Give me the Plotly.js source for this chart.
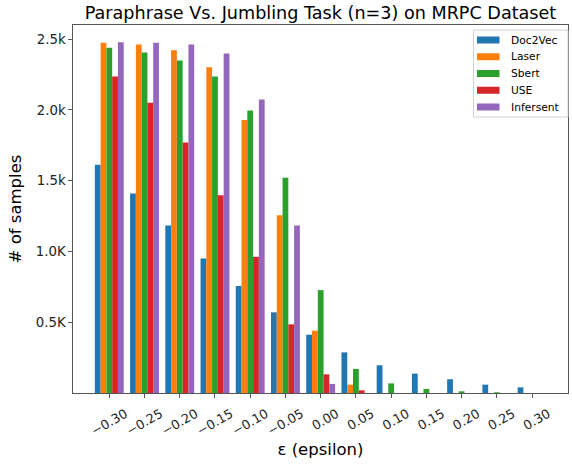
<!DOCTYPE html>
<html><head><meta charset="utf-8">
<script src="https://cdn.plot.ly/plotly-3.0.1.min.js"></script>
<style>html,body{margin:0;padding:0;background:#fff}</style>
</head><body>
<div id="chart" style="width:572px;height:464px"></div>
<script>
const categories = ["\u22120.30","\u22120.25","\u22120.20","\u22120.15","\u22120.10","\u22120.05","0.00","0.05","0.10","0.15","0.20","0.25","0.30"];
const doc2vec   = [1613, 1410, 1184, 951, 756, 570, 412, 287, 196, 137, 97, 59, 40];
const laser     = [2474, 2463, 2422, 2302, 1928, 1255, 440, 59, 0, 0, 0, 0, 0];
const sbert     = [2439, 2406, 2350, 2237, 1996, 1521, 727, 170, 68, 29, 12, 5, 0];
const use       = [2237, 2051, 1770, 1398, 963, 485, 132, 19, 0, 0, 0, 0, 0];
const infersent = [2479, 2474, 2463, 2399, 2074, 1184, 64, 0, 0, 0, 0, 0, 0];
const seriesNames = ["Doc2Vec","Laser","Sbert","USE","Infersent"];
const seriesColors = ["#1f77b4","#ff7f0e","#2ca02c","#d62728","#9467bd"];
const yTickVals = [500, 1000, 1500, 2000, 2500];
const yTickText = ["0.5K","1.0K","1.5k","2.0k","2.5k"];

const allSeries = [doc2vec, laser, sbert, use, infersent];
const traces = allSeries.map((vals, i) => ({
  type: "bar", x: categories, y: vals, name: seriesNames[i],
  marker: {color: seriesColors[i], line: {width: 0}}
}));

// plot area geometry (pixels) used to place the hand-built legend box
const W = 572, H = 464, ML = 73, MR = 4, MT = 25, MB = 71;
const PW = W - ML - MR, PH = H - MT - MB;
const px = x => (x - ML) / PW;
const py = y => (H - MB - y) / PH;

const shapes = [{type: "rect", xref: "paper", yref: "paper",
  x0: px(473.5), x1: px(568), y0: py(117), y1: py(30),
  line: {color: "#d0d0d0", width: 1}, fillcolor: "rgba(255,255,255,0.85)", layer: "above"}];
const annotations = [];
seriesNames.forEach((name, i) => {
  const cy = 40 + i * 16.75;
  shapes.push({type: "rect", xref: "paper", yref: "paper",
    x0: px(477), x1: px(499.5), y0: py(cy + 3.5), y1: py(cy - 3.5),
    line: {width: 0}, fillcolor: seriesColors[i], layer: "above"});
  annotations.push({xref: "paper", yref: "paper", x: px(508.5), y: py(cy),
    xanchor: "left", yanchor: "middle", showarrow: false, text: name,
    font: {size: 10.7, family: "DejaVu Sans", color: "#000"}});
});

const layout = {
  width: W, height: H,
  margin: {l: ML, r: MR, t: MT, b: MB},
  paper_bgcolor: "#fff", plot_bgcolor: "#fff",
  font: {family: "DejaVu Sans", color: "#000"},
  barmode: "group", bargap: 0.18, bargroupgap: 0,
  showlegend: false,
  title: {text: "Paraphrase Vs. Jumbling Task (n=3) on MRPC Dataset",
          font: {size: 17.6, family: "DejaVu Sans", color: "#000"},
          x: 0.5, xref: "paper", xanchor: "center",
          y: 1 - 13/464, yref: "container", yanchor: "middle"},
  xaxis: {type: "category", categoryorder: "array", categoryarray: categories,
          range: [-1.03, 13.02], showgrid: false, zeroline: false,
          showline: true, linecolor: "#555", linewidth: 1.2, mirror: true,
          ticks: "outside", ticklen: 3.5, tickwidth: 1, tickcolor: "#555",
          tickangle: -30, ticklabelshift: 16, ticklabelstandoff: 4,
          tickfont: {size: 12.8, family: "DejaVu Sans", color: "#222"},
          title: {text: "\u03b5 (epsilon)", font: {size: 16.5, family: "DejaVu Sans", color: "#000"}, standoff: 6},
          automargin: false},
  yaxis: {range: [0, 2600], showgrid: false, zeroline: false,
          showline: true, linecolor: "#555", linewidth: 1.2, mirror: true,
          ticks: "outside", ticklen: 3.5, tickwidth: 1, tickcolor: "#555",
          tickvals: yTickVals, ticktext: yTickText,
          tickfont: {size: 13.3, family: "DejaVu Sans", color: "#222"},
          title: {text: "# of samples", font: {size: 16.5, family: "DejaVu Sans", color: "#000"}, standoff: 10},
          automargin: false},
  shapes: shapes,
  annotations: annotations
};
Plotly.newPlot("chart", traces, layout, {displayModeBar: false, staticPlot: true});
</script>
</body></html>
